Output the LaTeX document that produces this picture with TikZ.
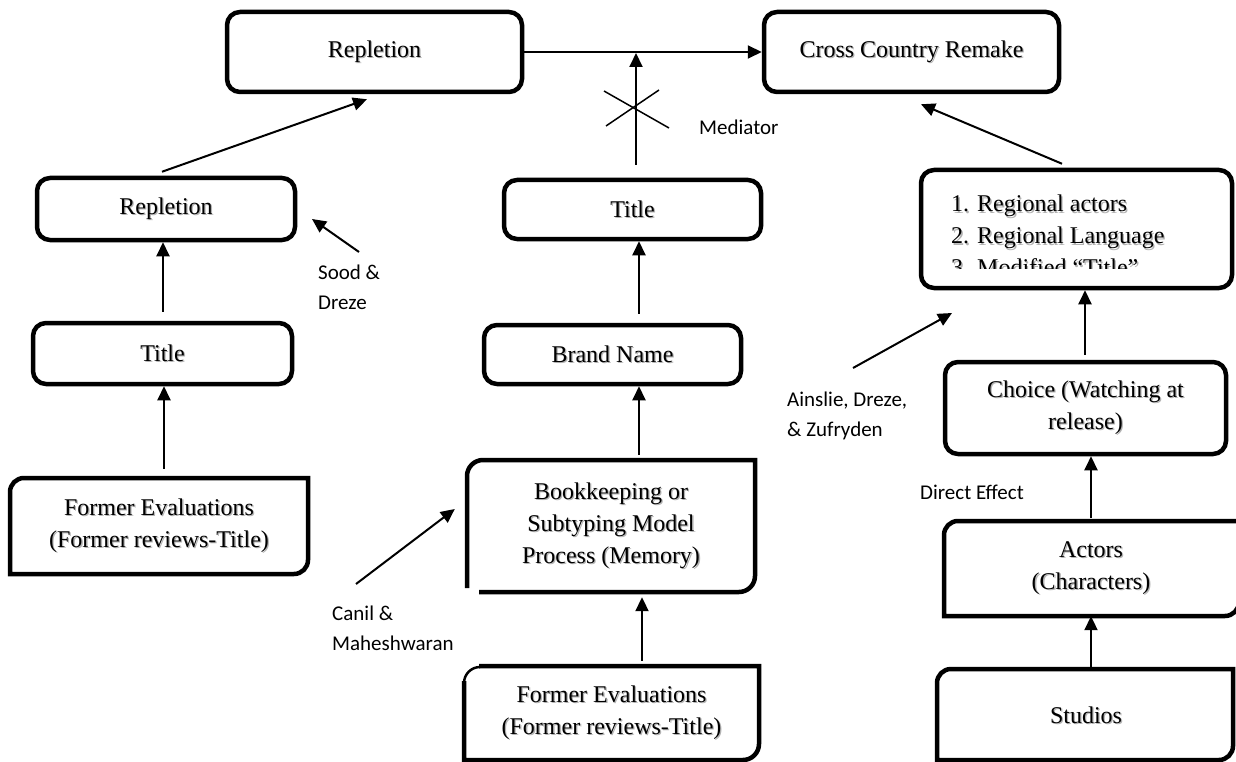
\documentclass[tikz,border=0pt]{standalone}
\usepackage{fontspec}
\setmainfont{Liberation Serif}
\newfontfamily\calfont{Carlito}
\usetikzlibrary{arrows.meta,calc}
\newcommand\txtshadow[1]{\makebox[0pt][l]{\hspace{1.3pt}\raisebox{-1.3pt}{\textcolor{black!30}{#1}}}#1}
\begin{document}
\begin{tikzpicture}[x=1pt,y=-1pt,
  box/.style={draw, line width=4.5pt, rounded corners=13pt, inner sep=0pt, align=center, font=\fontsize{24}{32}\selectfont},
  plain/.style={inner sep=0pt, align=center, font=\fontsize{24}{32}\selectfont},
  outline/.style={line width=4.5pt},
  arr/.style={line width=2pt, -{Triangle[length=14pt,width=13pt]}},
  lbl/.style={inner sep=0pt, align=left, font=\calfont\fontsize{21}{30}\selectfont},
]
\useasboundingbox (0,0) rectangle (1236,762);
\fill[white] (0,0) rectangle (1236,762);

% boxes
\node[box, minimum width=295pt, minimum height=80pt] (rep0) at (374.5,52) {\txtshadow{Repletion}};
\node[box, minimum width=295pt, minimum height=80pt] (ccr) at (911.5,52) {\txtshadow{Cross Country Remake}};
\node[box, minimum width=258pt, minimum height=62pt] (rep1) at (166,209) {\txtshadow{Repletion}};
\node[box, minimum width=259pt, minimum height=61pt] (tit1) at (162.5,353.5) {\txtshadow{Title}};
\node[plain, minimum width=298pt, minimum height=96pt] (fe1) at (159,526) {\txtshadow{Former Evaluations}\\\txtshadow{(Former reviews-Title)}};
\node[box, minimum width=257pt, minimum height=59pt] (tit2) at (632.5,209.5) {\txtshadow{Title}};
\node[box, minimum width=257pt, minimum height=59pt] (brand) at (612.5,354.5) {\txtshadow{Brand Name}};
\node[plain, minimum width=288pt, minimum height=132pt] (book) at (611,526) {\txtshadow{Bookkeeping or}\\\txtshadow{Subtyping Model}\\\txtshadow{Process (Memory)}};
\node[plain, minimum width=295pt, minimum height=94pt] (fe2) at (611.5,713) {\txtshadow{Former Evaluations}\\\txtshadow{(Former reviews-Title)}};
\node[box, minimum width=311pt, minimum height=118pt] (list) at (1076.5,229) {};
\node[box, minimum width=281pt, minimum height=92pt] (choice) at (1085.5,408) {\txtshadow{Choice (Watching at}\\\txtshadow{release)}};
\node[plain, minimum width=294pt, minimum height=95pt] (actors) at (1091,568.5) {\txtshadow{Actors}\\\txtshadow{(Characters)}};
\node[plain, minimum width=296pt, minimum height=92pt] (studios) at (1086,716) {\txtshadow{Studios}};

% list text, cut off at the bottom as in the original
\begin{scope}
\clip (921,170) rectangle (1232,268);
\node[inner sep=0pt, anchor=north west, align=left, font=\fontsize{24}{32}\selectfont] (listtext) at (951,195)
  {\txtshadow{1. Regional actors}\\\txtshadow{2. Regional Language}\\\txtshadow{3. Modified “Title”}};
\end{scope}

% irregular outlines
\draw[outline] (10,574) -- (10,492) .. controls (10,484.3) and (16.3,478) .. (24,478) -- (308,478) -- (308,560) .. controls (308,567.7) and (301.7,574) .. (294,574) -- cycle;
\draw[outline] (467,588) -- (467,476) .. controls (467,467.2) and (474.2,460) .. (483,460) -- (755,460) -- (755,576) .. controls (755,584.8) and (747.8,592) .. (739,592) -- (479,592);
\draw[outline] (479,666) -- (759,666) -- (759,744) .. controls (759,752.8) and (751.8,760) .. (743,760) -- (464,760) -- (464,681);
\draw[line width=2.5pt] (464,683) .. controls (464,674.2) and (471.2,667) .. (480,667);
\draw[outline] (944,616) -- (944,535) .. controls (944,527.3) and (950.3,521) .. (958,521) -- (1239,521) -- (1239,602) .. controls (1239,609.7) and (1232.7,616) .. (1225,616) -- cycle;
\draw[outline] (937,760) -- (937,683) .. controls (937,675.3) and (943.3,669) .. (951,669) -- (1233,669) -- (1233,746) .. controls (1233,753.7) and (1226.7,760) .. (1219,760) -- cycle;

% connectors
\draw[arr] ($(rep1.north)+(-4,-4)$) -- ($(rep0.south)+(-7.5,5)$);
\draw[arr] (rep0.east) -- (ccr.west);
\coordinate (med) at (636,53);
\draw[arr] ($(tit2.north)+(3.5,-13)$) -- (med);
\coordinate (xc) at (636,108);
\draw[line width=1.5pt] ($(xc)+(-32,-17)$) -- ($(xc)+(33,20)$);
\draw[line width=1.5pt] ($(xc)+(-30,18)$) -- ($(xc)+(23,-18)$);
\draw[arr] ($(brand.north)+(26.5,-9)$) -- ($(tit2.south)+(6.5,0)$);
\draw[arr] ($(book.north)+(28,-5)$) -- ($(brand.south)+(26.5,0)$);
\draw[arr] ($(fe2.north)+(30.5,-5)$) -- ($(book.south)+(31,5)$);
\draw[arr] ($(tit1.north)+(0.5,-9)$) -- ($(rep1.south)+(-3,0)$);
\draw[arr] ($(fe1.north)+(5,-9)$) -- ($(tit1.south)+(1.5,0)$);
\draw[arr] ($(list.north)+(-14.5,-4)$) -- ($(ccr.south)+(9.5,10)$);
\draw[arr] ($(choice.north)+(-0.5,-5)$) -- ($(list.south)+(8.5,0)$);
\draw[arr] ($(actors.north)+(0,-3)$) -- ($(choice.south)+(5.5,0)$);
\draw[arr] ($(studios.north)+(5,-2)$) -- (actors.south);

% labels
\node[lbl, anchor=base west] (medlbl) at (699,135) {Mediator};
\node[lbl, anchor=north west] (sood) at (318,265) {Sood \&\\Dreze};
\coordinate (soodtip) at (312,219);
\draw[arr] ($(sood.north west)+(41,-13)$) -- (soodtip);
\node[lbl, anchor=north west] (canil) at (332,606) {Canil \&\\Maheshwaran};
\draw[arr] ($(canil.north west)+(24,-22)$) -- ($(book.west)+(-12,-17)$);
\node[lbl, anchor=north west] (ains) at (787,392) {Ainslie, Dreze,\\\& Zufryden};
\coordinate (aintip) at (952,313);
\draw[arr] ($(ains.north west)+(66,-24)$) -- (aintip);
\node[lbl, anchor=base west] (direct) at (920,499) {Direct Effect};
\end{tikzpicture}
\end{document}
